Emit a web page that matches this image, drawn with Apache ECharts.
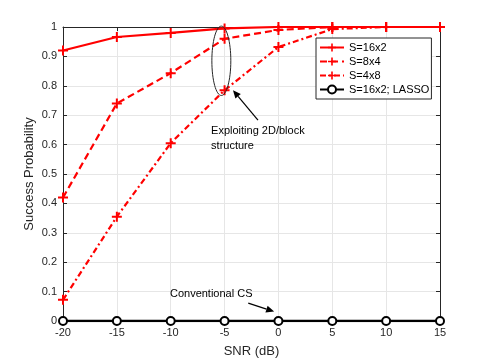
<!DOCTYPE html>
<html>
<head>
<meta charset="utf-8">
<script src="https://cdn.jsdelivr.net/npm/echarts@6/dist/echarts.min.js"></script>
<style>
  html, body { margin: 0; padding: 0; background: #fff; }
  #chart { width: 485px; height: 363px; }
</style>
</head>
<body>
<div id="chart"></div>
<script>
// SNR points (dB)
const snr = [-20, -15, -10, -5, 0, 5, 10, 15]
// success probability per block size
const s16x2 = [0.92, 0.966, 0.98, 0.995, 1, 1, 1, 1]
const s8x4 = [0.42, 0.74, 0.843, 0.96, 0.99, 1, 1, 1]
const s4x8 = [0.072, 0.355, 0.605, 0.785, 0.932, 0.993, 1, 1]
const lasso = [0, 0, 0, 0, 0, 0, 0, 0]
const yTicks = [0, 0.1, 0.2, 0.3, 0.4, 0.5, 0.6, 0.7, 0.8, 0.9, 1]

const pair = (ys) => snr.map((x, i) => [x, ys[i]])
const plus = 'path://M4,0h2v4h4v2h-4v4h-2v-4h-4v-2h4z'
const font = 'Liberation Sans'
const red = '#ff0000'

const chart = echarts.init(document.getElementById('chart'))

const redSeries = (name, data, type) => ({
  name,
  type: 'line',
  data: pair(data),
  symbol: plus,
  symbolSize: 10,
  showAllSymbol: true,
  lineStyle: { color: red, width: 2.2, type },
  itemStyle: { color: red },
  z: 3
})

chart.setOption({
  animation: false,
  textStyle: { fontFamily: font },
  grid: { left: 63, right: 45, top: 27, bottom: 40 },
  legend: {
    orient: 'vertical',
    left: 316,
    top: 38,
    itemWidth: 24,
    itemHeight: 10,
    itemGap: 3,
    padding: [4, 2, 4, 3],
    borderColor: '#262626',
    borderWidth: 1,
    backgroundColor: '#fff',
    textStyle: { fontSize: 11, color: '#000', fontFamily: font },
    data: ['S=16x2', 'S=8x4', 'S=4x8', 'S=16x2; LASSO']
  },
  xAxis: [{
    type: 'value',
    min: -20, max: 15, interval: 5,
    name: 'SNR (dB)',
    nameLocation: 'middle',
    nameGap: 24,
    nameMoveOverlap: false,
    nameTextStyle: { fontSize: 13, color: '#262626' },
    axisLine: { onZero: false, lineStyle: { color: '#262626', width: 1 } },
    axisTick: { inside: true, length: 4, lineStyle: { color: '#262626' } },
    axisLabel: { fontSize: 11, color: '#262626', margin: 6 },
    splitLine: { show: true, lineStyle: { color: '#e6e6e6' } }
  }, {
    type: 'value', position: 'top',
    min: -20, max: 15, interval: 5,
    axisLine: { onZero: false, lineStyle: { color: '#262626' } },
    axisTick: { inside: true, length: 4, lineStyle: { color: '#262626' } },
    axisLabel: { show: false },
    splitLine: { show: false }
  }],
  yAxis: [{
    type: 'value',
    min: 0, max: 1, interval: 0.1,
    name: 'Success Probability',
    nameLocation: 'middle',
    nameGap: 27,
    nameMoveOverlap: false,
    nameTextStyle: { fontSize: 13, color: '#262626' },
    axisLine: { show: true, onZero: false, lineStyle: { color: '#262626', width: 1 } },
    axisTick: { show: true, inside: true, length: 4, lineStyle: { color: '#262626' } },
    axisLabel: {
      fontSize: 11, color: '#262626', margin: 6,
      formatter: (v) => String(yTicks.find(t => Math.abs(t - v) < 1e-9) ?? v)
    },
    splitLine: { show: true, lineStyle: { color: '#e6e6e6' } }
  }, {
    type: 'value', position: 'right',
    min: 0, max: 1, interval: 0.1,
    axisLine: { show: true, onZero: false, lineStyle: { color: '#262626' } },
    axisTick: { show: true, inside: true, length: 4, lineStyle: { color: '#262626' } },
    axisLabel: { show: false },
    splitLine: { show: false }
  }],
  series: [
    redSeries('S=16x2', s16x2, 'solid'),
    redSeries('S=8x4', s8x4, [7, 4]),
    redSeries('S=4x8', s4x8, [6, 3, 2, 3]),
    {
      name: 'S=16x2; LASSO',
      type: 'line',
      data: pair(lasso),
      symbol: 'emptyCircle',
      symbolSize: 8,
      lineStyle: { color: '#000', width: 2.5 },
      itemStyle: { color: '#000', borderColor: '#000', borderWidth: 2.2 },
      z: 4
    }
  ]
})

// annotations placed in data coordinates
const px = (x, y) => chart.convertToPixel({ gridIndex: 0 }, [x, y])
const ec = px(-5.3, 0.885)
const eTop = px(-5.3, 1.003)
const eRight = px(-4.42, 0.885)
const a1s = px(-1.9, 0.683)
const a1e = px(-4.22, 0.785)
const t1 = px(-6.25, 0.673)
const c2 = px(-10.07, 0.111)
const a2s = px(-2.8, 0.061)
const a2e = px(-0.4, 0.032)

const arrow = (s, e) => {
  const ang = Math.atan2(e[1] - s[1], e[0] - s[0])
  const L = 8, W = 3.5
  const bx = e[0] - L * Math.cos(ang), by = e[1] - L * Math.sin(ang)
  const nx = -Math.sin(ang) * W, ny = Math.cos(ang) * W
  return [
    { type: 'line', shape: { x1: s[0], y1: s[1], x2: bx, y2: by }, style: { stroke: '#000', lineWidth: 1.2 }, z: 10 },
    { type: 'polygon', shape: { points: [e, [bx + nx, by + ny], [bx - nx, by - ny]] }, style: { fill: '#000' }, z: 10 }
  ]
}

chart.setOption({
  graphic: [
    {
      type: 'ellipse',
      shape: { cx: ec[0], cy: ec[1], rx: eRight[0] - ec[0], ry: ec[1] - eTop[1] },
      style: { fill: 'none', stroke: '#262626', lineWidth: 1 },
      z: 10
    },
    ...arrow(a1s, a1e),
    {
      type: 'text', x: t1[0], y: t1[1],
      style: { text: 'Exploiting 2D/block\nstructure', font: '11px "Liberation Sans"', fill: '#000', lineHeight: 15 },
      z: 10
    },
    {
      type: 'text', x: c2[0], y: c2[1],
      style: { text: 'Conventional CS', font: '11px "Liberation Sans"', fill: '#000' },
      z: 10
    },
    ...arrow(a2s, a2e)
  ]
})
</script>
</body>
</html>
